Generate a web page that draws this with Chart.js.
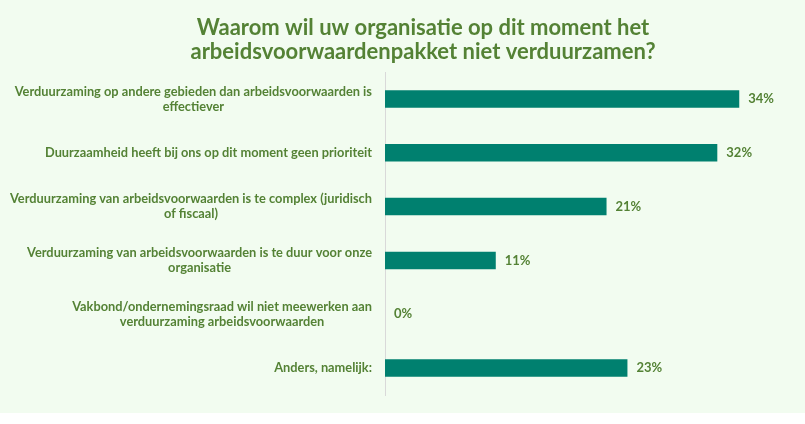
<!DOCTYPE html>
<html>
<head>
<meta charset="utf-8">
<script src="https://cdn.jsdelivr.net/npm/chart.js@4/dist/chart.umd.min.js"></script>
<style>
  html, body { margin: 0; padding: 0; background: #ffffff; }
  #wrap { width: 805px; height: 424px; }
</style>
</head>
<body>
<div id="wrap"><canvas id="reasonChart" width="805" height="424"></canvas></div>
<script>
// chart data
const titleLines = [
    'Waarom wil uw organisatie op dit moment het',
    'arbeidsvoorwaardenpakket niet verduurzamen?'
];
const categories = [
    ['Verduurzaming op andere gebieden dan arbeidsvoorwaarden is', 'effectiever'],
    ['Duurzaamheid heeft bij ons op dit moment geen prioriteit'],
    ['Verduurzaming van arbeidsvoorwaarden is te complex (juridisch', 'of fiscaal)'],
    ['Verduurzaming van arbeidsvoorwaarden is te duur voor onze', 'organisatie'],
    ['Vakbond/ondernemingsraad wil niet meewerken aan', 'verduurzaming arbeidsvoorwaarden'],
    ['Anders, namelijk:']
];
const shares = [33.9, 31.8, 21.2, 10.6, 0, 23.2];

const green = '#548235';
const teal = '#00806f';
const fontFamily = "Lato, 'Open Sans', sans-serif";

// Calibri-like text: stretch/squeeze a line so it fills the given width
function squeezeFor(ctx, text, width) {
    return width / ctx.measureText(text).width;
}

// mint background over the chart region only
const backgroundPlugin = {
    id: 'mintBackground',
    beforeDraw(chart) {
        const ctx = chart.ctx;
        ctx.save();
        ctx.fillStyle = '#f2fcf0';
        ctx.fillRect(0, 0, chart.width, 413);
        ctx.restore();
    }
};

// title, category labels (right aligned block, centered lines) and value labels
const labelPlugin = {
    id: 'barLabels',
    afterDraw(chart) {
        const ctx = chart.ctx;
        const yScale = chart.scales.y;
        const xScale = chart.scales.x;
        ctx.save();
        ctx.fillStyle = green;
        ctx.textBaseline = 'middle';
        ctx.textAlign = 'center';

        // title
        ctx.font = 'bold 22px ' + fontFamily;
        const tsx = squeezeFor(ctx, titleLines[1], 465);
        titleLines.forEach((line, j) => {
            ctx.save();
            ctx.translate(423, 28 + j * 24);
            ctx.scale(tsx, 1);
            ctx.fillText(line, 0, 0);
            ctx.restore();
        });

        // category labels
        ctx.font = 'bold 13px ' + fontFamily;
        const sx = squeezeFor(ctx, categories[2][0], 362);
        const lineH = 15;
        categories.forEach((lines, i) => {
            const y = yScale.getPixelForValue(i);
            const maxW = Math.max(...lines.map(l => ctx.measureText(l).width)) * sx;
            const cx = 372 - maxW / 2;
            lines.forEach((line, j) => {
                ctx.save();
                ctx.translate(cx, y - (lines.length - 1) * lineH / 2 + j * lineH);
                ctx.scale(sx, 1);
                ctx.fillText(line, 0, 0);
                ctx.restore();
            });
        });

        // value labels
        ctx.font = 'bold 13px ' + fontFamily;
        ctx.textAlign = 'left';
        shares.forEach((v, i) => {
            const x = xScale.getPixelForValue(v) + 9;
            ctx.fillText(Math.round(v) + '%', x, yScale.getPixelForValue(i));
        });
        ctx.restore();
    }
};

const ctx = document.getElementById('reasonChart').getContext('2d');
const reasonChart = new Chart(ctx, {
    type: 'bar',
    data: {
        labels: categories,
        datasets: [{
            data: shares,
            backgroundColor: teal,
            borderWidth: 0,
            barPercentage: 0.325,
            categoryPercentage: 1
        }]
    },
    options: {
        indexAxis: 'y',
        responsive: false,
        animation: false,
        layout: {
            padding: { left: 42, right: 2, top: 72, bottom: 29 }
        },
        plugins: {
            legend: { display: false },
            tooltip: { enabled: false },
            title: { display: false }
        },
        scales: {
            x: {
                display: false,
                min: 0,
                max: 40
            },
            y: {
                grid: { display: false },
                border: { display: true, color: '#d9d9d9', width: 1 },
                ticks: { display: false },
                afterFit(scale) {
                    scale.width = 343;
                }
            }
        }
    },
    plugins: [backgroundPlugin, labelPlugin]
});
</script>
</body>
</html>
